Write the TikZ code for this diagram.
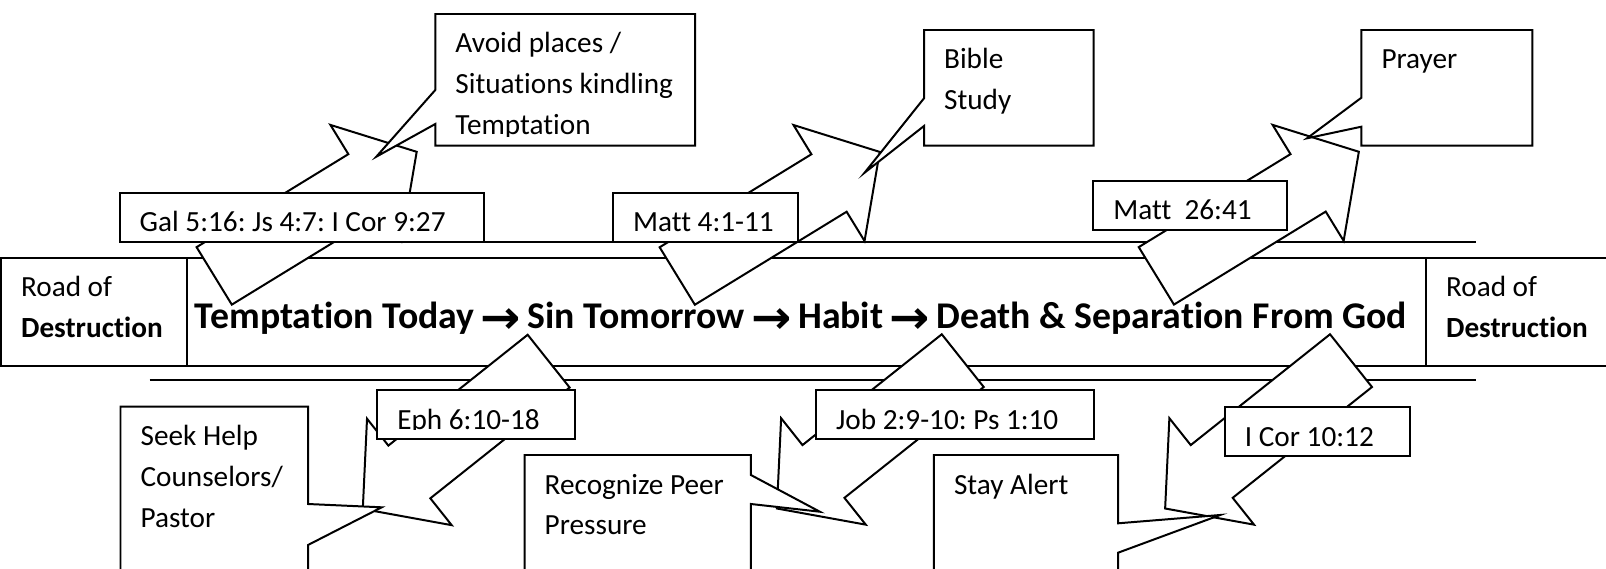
\documentclass[tikz,border=0pt]{standalone}
\usepackage{fontspec}
\usepackage{graphicx}
\usepackage{tikz}
\setmainfont{Carlito}[Ligatures=NoCommon]
\newfontfamily\dejavu{DejaVu Sans}[BoldFont={DejaVu Sans Bold}]
\newcommand{\toarrow}{\makebox[13.6pt]{\raisebox{-1.8pt}{\scalebox{1.17}[1.12]{\dejavu\fontsize{15.5}{16}\selectfont\bfseries →}}}}

\begin{document}
\begin{tikzpicture}[x=0.3762pt, y=-0.3762pt, line width=0.75pt,
	box/.style={draw, fill=white},
	blockarrow/.style={draw, fill=white},
	txt/.style={anchor=base west, inner sep=0pt, text width=200pt, align=flush left, font=\fontsize{11}{15.4}\selectfont\frenchspacing}]
	\useasboundingbox (0,0) rectangle (1606,569);
	\clip (0,0) rectangle (1606,569);

	% Road
	\draw (150,241.7) -- (1475.5,241.7);
	\draw (149.6,379.7) -- (1475.5,379.7);
	\draw[box] (1,257.7) rectangle (186.6,365.7);
	\draw[box] (186.6,257.7) rectangle (1426,365.7);
	\draw[box] (1426,257.7) rectangle (1612,365.7);
	\node[txt] (roadl) at (20.1,296.7) {Road of\\\textbf{Destruction}};
	\node[txt] (roadr) at (1445.1,296.7) {Road of\\\textbf{Destruction}};
	\node[anchor=base west, inner sep=0pt, font=\fontsize{14.2}{16}\selectfont\bfseries] (title) at (194,328.5) {Temptation Today \toarrow{} Sin Tomorrow \toarrow{} Habit \toarrow{} Death \& Separation From God};

	% Arrows up
	\draw[blockarrow, shift={(214.2,275.9)}, rotate=31.5] (0,-33.7) -- (178,-33.7) -- (178,-68) -- (237.5,0) -- (178,68) -- (178,33.7) -- (0,33.7) -- cycle;
	\draw[blockarrow, shift={(677.25,276)}, rotate=31.5] (0,-33.7) -- (178,-33.7) -- (178,-68) -- (237.5,0) -- (178,68) -- (178,33.7) -- (0,33.7) -- cycle;
	\draw[blockarrow, shift={(1156.35,275.85)}, rotate=31.5] (0,-33.7) -- (178,-33.7) -- (178,-68) -- (237.5,0) -- (178,68) -- (178,33.7) -- (0,33.7) -- cycle;
	% Arrows down
	\draw[blockarrow, shift={(548.65,361.15)}, rotate=218.5] (0,-33.7) -- (178,-33.7) -- (178,-68) -- (237.5,0) -- (178,68) -- (178,33.7) -- (0,33.7) -- cycle;
	\draw[blockarrow, shift={(962.75,360.65)}, rotate=218.5] (0,-33.7) -- (178,-33.7) -- (178,-68) -- (237.5,0) -- (178,68) -- (178,33.7) -- (0,33.7) -- cycle;
	\draw[blockarrow, shift={(1351,360.65)}, rotate=218.5] (0,-33.7) -- (178,-33.7) -- (178,-68) -- (237.5,0) -- (178,68) -- (178,33.7) -- (0,33.7) -- cycle;

	% Verses
	\draw[box] (119.6,192.7) rectangle (483.5,241.7);
	\node[txt] (gal) at (138.7,231.7) {Gal 5:16: Js 4:7: I Cor 9:27};
	\draw[box] (613.1,192.7) rectangle (797.7,241.7);
	\node[txt] (matta) at (632.2,231.7) {Matt 4:1-11};
	\draw[box] (1093.3,181) rectangle (1286.9,230);
	\node[txt] (mattb) at (1112.4,220) {Matt\ \ 26:41};
	\draw[box] (377.2,390) rectangle (575,439.3);
	\begin{scope}
		\clip (377.2,390) rectangle (575,429.7);
		\node[txt] (eph) at (396.3,429) {Eph 6:10-18};
	\end{scope}
	\draw[box] (816,390) rectangle (1094.2,439.3);
	\node[txt] (job) at (835.1,429) {Job 2:9-10: Ps 1:10};
	\draw[box] (1224.8,407.3) rectangle (1409.9,455.7);
	\node[txt] (icor) at (1243.9,446.3) {I Cor 10:12};

	% Remedies above
	\draw[box] (435.3,14) -- (695,14) -- (695,145.7) -- (435.3,145.7) -- (435.3,124) -- (376.3,156.7) -- (435.3,90) -- cycle;
	\begin{scope}
		\clip (435.3,14) rectangle (695,136.1);
		\node[txt] (avoid) at (454.4,53) {Avoid places /\\Situations kindling\\Temptation};
	\end{scope}
	\draw[box] (924,30) -- (1093.5,30) -- (1093.5,145.7) -- (924,145.7) -- (924,126) -- (864.6,172.7) -- (924,98.3) -- cycle;
	\node[txt] (bible) at (943.1,69) {Bible\\Study};
	\draw[box] (1361.4,30) -- (1532.3,30) -- (1532.3,145.7) -- (1361.4,145.7) -- (1361.4,126.7) -- (1307,138.3) -- (1361.4,97.7) -- cycle;
	\node[txt] (prayer) at (1380.5,69) {Prayer};

	% Remedies below
	\draw[box] (120.5,406.7) -- (308,406.7) -- (308,504) -- (381.7,507.3) -- (308,545) -- (308,580) -- (120.5,580) -- cycle;
	\node[txt] (seek) at (139.6,445.7) {Seek Help\\Counselors/\\Pastor};
	\draw[box] (524.6,455) -- (750.9,455) -- (750.9,475) -- (819.8,511.7) -- (750.9,504) -- (750.9,580) -- (524.6,580) -- cycle;
	\node[txt] (peer) at (543.7,494) {Recognize Peer\\Pressure};
	\draw[box] (933.9,455) -- (1118.1,455) -- (1118.1,523.3) -- (1220.2,515) -- (1118.1,552.7) -- (1118.1,580) -- (933.9,580) -- cycle;
	\node[txt] (alert) at (953,494) {Stay Alert};
\end{tikzpicture}
\end{document}
